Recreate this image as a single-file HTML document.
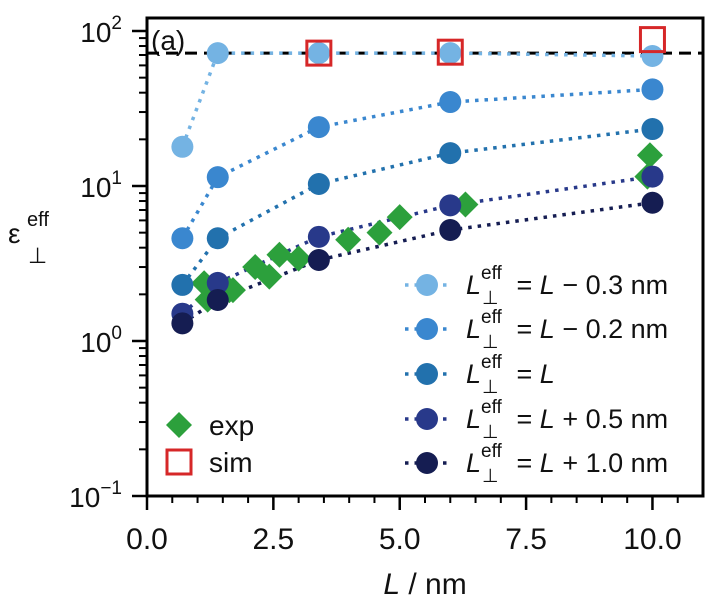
<!DOCTYPE html>
<html><head><meta charset="utf-8"><style>
html,body{margin:0;padding:0;background:#fff;}
svg{display:block;font-family:"Liberation Sans",sans-serif;}
</style></head><body>
<svg id="chart" width="721" height="600" viewBox="0 0 721 600" xmlns="http://www.w3.org/2000/svg">
<g id="plot"></g>
</svg>
<script>
const xs = [0.7, 1.4, 3.4, 6, 10];
const sLm03 = [17.9, 72, 72, 72, 69];
const sLm02 = [4.6, 11.4, 24, 34.8, 42];
const sL0 = [2.3, 4.6, 10.3, 16.3, 23.3];
const sLp05 = [1.5, 2.37, 4.7, 7.5, 11.5];
const sLp10 = [1.3, 1.84, 3.33, 5.2, 7.8];
const expX = [1.13, 1.2, 1.63, 1.7, 2.14, 2.42, 2.62, 3.0, 3.98, 4.6, 5.0, 6.3, 9.9, 9.95];
const expY = [2.36, 1.85, 2.13, 2.13, 3.0, 2.6, 3.6, 3.4, 4.5, 5.0, 6.3, 7.6, 11.5, 15.8];
const simX = [3.4, 6, 10];
const simY = [72, 73, 88];
const refLine = 72;
const xTicks = [0, 2.5, 5, 7.5, 10];
const xTickLabels = ["0.0", "2.5", "5.0", "7.5", "10.0"];
const yExps = [2, 1, 0, -1];

const L = 147, R = 703, T = 18, B = 496;
const xMin = 0, xMax = 11.0;
const y2 = 31, perDec = 155;
function X(v){ return L + (v - xMin) / (xMax - xMin) * (R - L); }
function Y(v){ return y2 + (2 - Math.log10(v)) * perDec; }

const NS = "http://www.w3.org/2000/svg";
const g = document.getElementById('plot');
function mk(tag, attrs, parent){
  const e = document.createElementNS(NS, tag);
  for (const k in attrs) e.setAttribute(k, attrs[k]);
  (parent || g).appendChild(e);
  return e;
}

const frame = mk('rect', {x:L, y:T, width:R-L, height:B-T, fill:'none', stroke:'#000', 'stroke-width':3});



for (let d = -1; d <= 2; d++) {
  const yy = Y(Math.pow(10, d));
  const t = mk('line', {x1:L-15, x2:L, y1:yy, y2:yy, stroke:'#000', 'stroke-width':2.5});
  
  
  if (d < 2) for (let m = 2; m <= 9; m++) {
    const ym = Y(m * Math.pow(10, d));
    const mt = mk('line', {x1:L-8, x2:L, y1:ym, y2:ym, stroke:'#000', 'stroke-width':2});
    
    
  }
}
yExps.forEach(function(e){
  const yy = Y(Math.pow(10, e));
  const tx = mk('text', {x:122, y:yy+11, 'text-anchor':'end', 'font-size':28, fill:'#111'});
  
  
  tx.innerHTML = '10<tspan dy="-13" font-size="19">' + (e < 0 ? '\u2212' + (-e) : e) + '</tspan>';
});

for (let v = 0; v <= 10.5 + 1e-9; v += 0.5) {
  const major = Math.abs(v / 2.5 - Math.round(v / 2.5)) < 1e-6;
  const t = mk('line', {x1:X(v), x2:X(v), y1:B, y2:B + (major ? 14 : 7), stroke:'#000', 'stroke-width': major ? 2.5 : 2});
  
  
}
xTicks.forEach(function(v, i){
  const tx = mk('text', {x:X(v), y:549, 'text-anchor':'middle', 'font-size':30, fill:'#111'});
  
  
  tx.textContent = xTickLabels[i];
});

const xt = mk('text', {x:425, y:594, 'text-anchor':'middle', 'font-size':30, fill:'#111'});


xt.innerHTML = '<tspan font-style="italic">L</tspan> / nm';
const yt = mk('text', {x:8, y:243, 'font-size':28, fill:'#111'});


yt.innerHTML = '\u03b5<tspan x="27" y="226" font-size="20">eff</tspan><tspan x="28" y="263" font-size="22">\u22a5</tspan>';

const panel = mk('text', {x:151, y:50, 'font-size':28, fill:'#111'});


panel.textContent = '(a)';

const ref = mk('line', {x1:L, x2:R, y1:Y(refLine), y2:Y(refLine), stroke:'#000', 'stroke-width':3, 'stroke-dasharray':'12,7'});



const series = [
  {name:'l-minus-0-3', ys:sLm03, color:'#74b3e3'},
  {name:'l-minus-0-2', ys:sLm02, color:'#3a87cf'},
  {name:'l-equal', ys:sL0, color:'#2271ad'},
  {name:'l-plus-0-5', ys:sLp05, color:'#28398a'},
  {name:'l-plus-1-0', ys:sLp10, color:'#151d52'}
];
series.forEach(function(s){
  const pts = xs.map(function(x, i){ return X(x) + ',' + Y(s.ys[i]); }).join(' ');
  const pl = mk('polyline', {points:pts, fill:'none', stroke:s.color, 'stroke-width':3.5, 'stroke-dasharray':'3.5,6'});
  
  
});

expX.forEach(function(x, i){
  const cx = X(x), cy = Y(expY[i]), r = 13;
  const d = mk('polygon', {points:[cx+','+(cy-r), (cx+r)+','+cy, cx+','+(cy+r), (cx-r)+','+cy].join(' '), fill:'#2ca03c'});
  
  
});

series.forEach(function(s){
  xs.forEach(function(x, i){
    const c = mk('circle', {cx:X(x), cy:Y(s.ys[i]), r:11, fill:s.color});
    
    
  });
});

simX.forEach(function(x, i){
  const cx = X(x), cy = Y(simY[i]);
  const sq = mk('rect', {x:cx-12, y:cy-12, width:24, height:24, fill:'none', stroke:'#d62728', 'stroke-width':3});
  
  
});

const legLabels = ['\u2212 0.3', '\u2212 0.2', '', '+ 0.5', '+ 1.0'];
const legY = [285, 329, 374, 419, 463];
series.forEach(function(s, i){
  const gy = legY[i];
  const lg = mk('g', {});
  
  
  mk('line', {x1:405, x2:450, y1:gy, y2:gy, stroke:s.color, 'stroke-width':3.5, 'stroke-dasharray':'3.5,6'}, lg);
  mk('circle', {cx:427, cy:gy, r:11, fill:s.color}, lg);
  const t = mk('text', {x:466, y:gy+9, 'font-size':27, fill:'#111'}, lg);
  const tail = legLabels[i] ? ' = <tspan font-style="italic">L</tspan> ' + legLabels[i] + ' nm' : ' = <tspan font-style="italic">L</tspan>';
  t.innerHTML = '<tspan font-style="italic">L</tspan><tspan x="481" y="' + (gy-6) + '" font-size="19">eff</tspan><tspan x="482" y="' + (gy+19) + '" font-size="19">\u22a5</tspan><tspan x="509" y="' + (gy+9) + '">' + tail + '</tspan>';
});

const le = mk('g', {});


mk('polygon', {points:'179,412 192,425 179,438 166,425', fill:'#2ca03c'}, le);
mk('text', {x:209, y:435, 'font-size':28, fill:'#111'}, le).textContent = 'exp';
const ls = mk('g', {});


mk('rect', {x:167, y:450, width:24, height:24, fill:'none', stroke:'#d62728', 'stroke-width':3}, ls);
mk('text', {x:209, y:472, 'font-size':28, fill:'#111'}, ls).textContent = 'sim';
</script>
</body></html>
